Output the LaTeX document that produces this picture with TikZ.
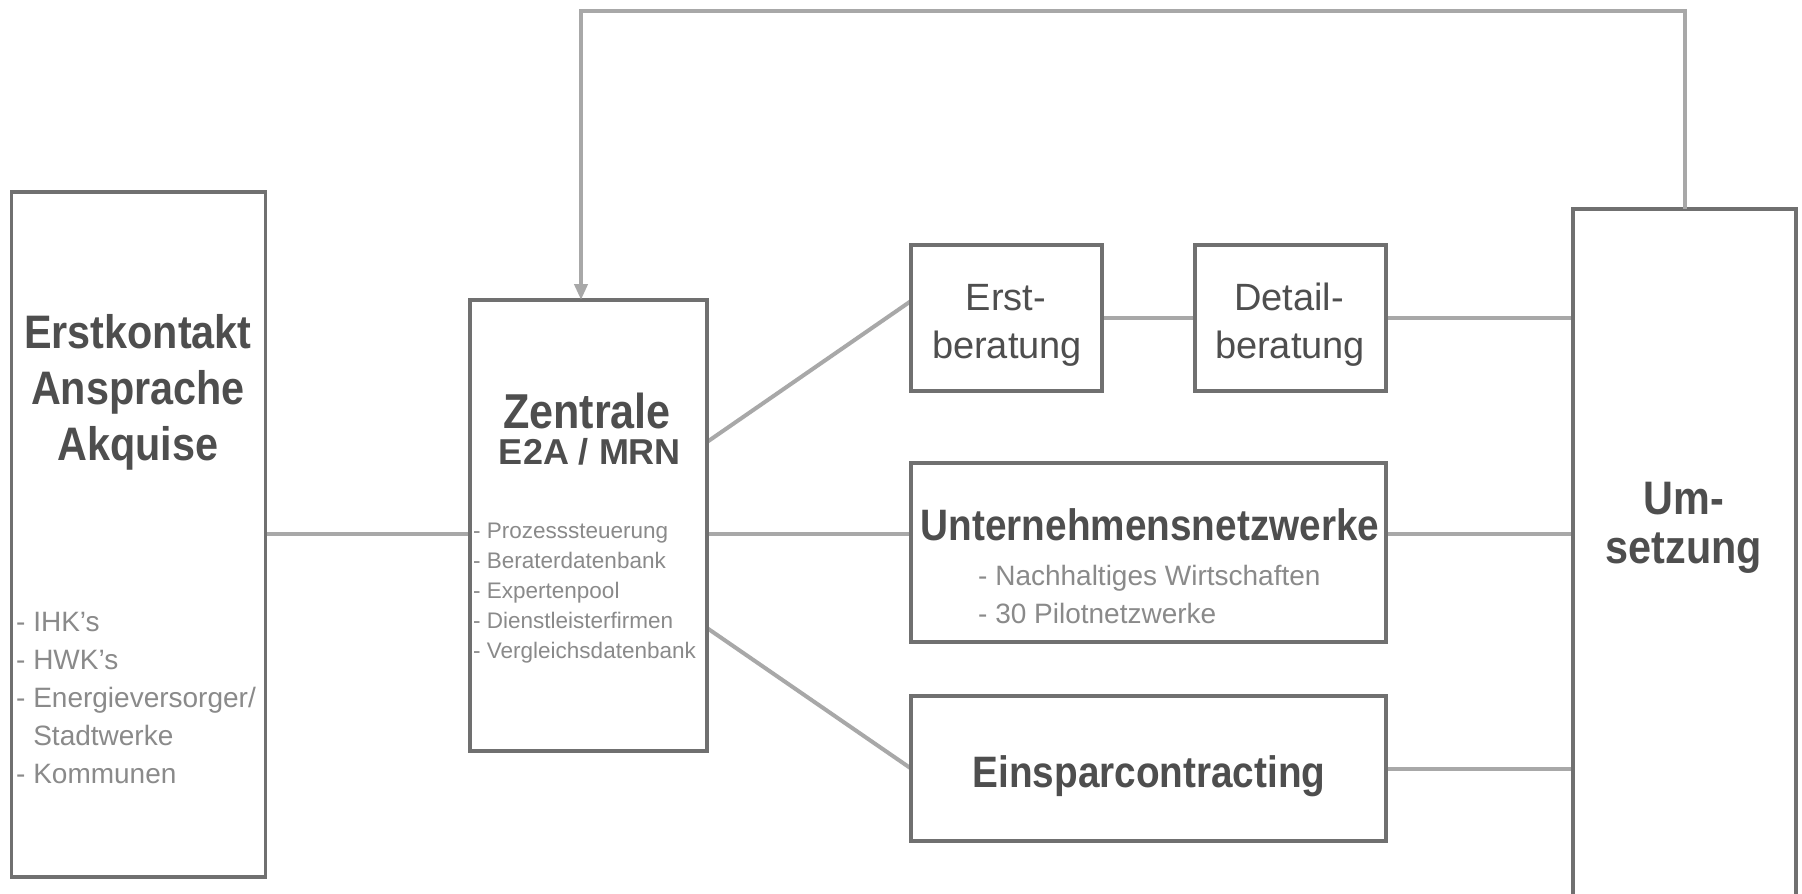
\documentclass[tikz,border=0pt]{standalone}
\usepackage{fontspec}
\setmainfont{Liberation Sans}
\newfontfamily\bfam[FakeStretch=0.88]{Liberation Sans}
\usetikzlibrary{arrows.meta,calc}
\definecolor{boxc}{HTML}{707070}
\definecolor{linec}{HTML}{A8A8A8}
\definecolor{titc}{HTML}{4E4E4E}
\definecolor{subc}{HTML}{8A8A8A}
\pgfdeclarelayer{bg}
\pgfsetlayers{bg,main}
\begin{document}
\begin{tikzpicture}[x=1pt,y=-1pt,
  box/.style={rectangle,draw=boxc,line width=3.5pt,fill=white,inner sep=0pt,outer sep=0pt,anchor=north west},
  conn/.style={draw=linec,line width=4pt},
  bigt/.style={text=titc,inner sep=0pt,anchor=base,font=\bfam\bfseries\fontsize{47}{47}\selectfont},
  midt/.style={text=titc,inner sep=0pt,anchor=base,font=\bfam\bfseries\fontsize{44}{44}\selectfont},
  regt/.style={text=titc,inner sep=0pt,anchor=base,font=\fontsize{38}{38}\selectfont},
  lista/.style={text=subc,inner sep=0pt,anchor=base west,font=\fontsize{28}{28}\selectfont},
  listb/.style={text=subc,inner sep=0pt,anchor=base west,font=\fontsize{22.5}{22.5}\selectfont}
]
\useasboundingbox (0,0) rectangle (1802,894);
\clip (0,0) rectangle (1802,894);

% boxes
\node[box,minimum width=254pt,minimum height=685pt] (L) at (11.5,192) {};
\node[box,minimum width=237pt,minimum height=451pt] (Z) at (470,300) {};
\node[box,minimum width=191pt,minimum height=146pt] (E1) at (911,245) {};
\node[box,minimum width=191pt,minimum height=146pt] (D) at (1195,245) {};
\node[box,minimum width=475pt,minimum height=179pt] (U) at (911,463) {};
\node[box,minimum width=475pt,minimum height=145pt] (C) at (911,696) {};
\node[box,minimum width=223pt,minimum height=720pt] (S) at (1573,209) {};

% connectors
\begin{pgfonlayer}{bg}
\fill[white] (0,0) rectangle (1802,894);
\draw[conn] (L.east |- 0,534) -- (Z.west |- 0,534);
\draw[conn] (Z.east |- 0,534) -- (U.west |- 0,534);
\draw[conn] (U.east |- 0,534) -- (S.west |- 0,534);
\draw[conn] (Z.east |- 0,442) -- (E1.west |- 0,301);
\draw[conn] (Z.east |- 0,628) -- (C.west);
\draw[conn] (E1.east) -- (D.west);
\draw[conn] (D.east) -- (S.west |- D.east);
\draw[conn] (C.east) -- (S.west |- C.east);
\end{pgfonlayer}
\coordinate (ztop) at ($(Z.north)+(-7.5,0)$);
\draw[conn,-{Triangle[length=16pt,width=13pt]}] (S.north) -- (S.north |- 0,11) -| (ztop);

% texts: left box
\node[bigt] (t1) at (138,348) {Erstkontakt};
\node[bigt] (t2) at (138,404) {Ansprache};
\node[bigt] (t3) at (138,460) {Akquise};
\node[lista] (l1) at (16,631) {- IHK's};
\node[lista] (l2) at (16,669) {- HWK's};
\node[lista] (l3) at (16,707) {- Energieversorger/};
\node[lista] (l4) at (16,745) {\hphantom{-\ }Stadtwerke};
\node[lista] (l5) at (16,783) {- Kommunen};

% Zentrale
\node[bigt,font=\bfam\bfseries\fontsize{49}{49}\selectfont] (z1) at (587,428) {Zentrale};
\node[text=titc,inner sep=0pt,anchor=base,font=\bfseries\fontsize{36}{36}\selectfont] (z2) at (590,464) {E2A / MRN};
\node[listb] (m1) at (473,538) {- Prozesssteuerung};
\node[listb] (m2) at (473,568) {- Beraterdatenbank};
\node[listb] (m3) at (473,598) {- Expertenpool};
\node[listb] (m4) at (473,628) {- Dienstleisterfirmen};
\node[listb] (m5) at (473,658) {- Vergleichsdatenbank};

% Erst / Detail
\node[regt] (e1) at (1006,310) {Erst-};
\node[regt] (e2) at (1007,358) {beratung};
\node[regt] (d1) at (1289,310) {Detail-};
\node[regt] (d2) at (1290,358) {beratung};

% Unternehmensnetzwerke
\node[midt] (u1) at (1150,540) {Unternehmensnetzwerke};
\node[lista] (u2) at (978,585) {- Nachhaltiges Wirtschaften};
\node[lista] (u3) at (978,623) {- 30 Pilotnetzwerke};

% Einsparcontracting
\node[midt] (c1) at (1149,787) {Einsparcontracting};

% Umsetzung
\node[bigt] (s1) at (1684,514) {Um-};
\node[bigt] (s2) at (1684,563) {setzung};
\end{tikzpicture}
\end{document}
